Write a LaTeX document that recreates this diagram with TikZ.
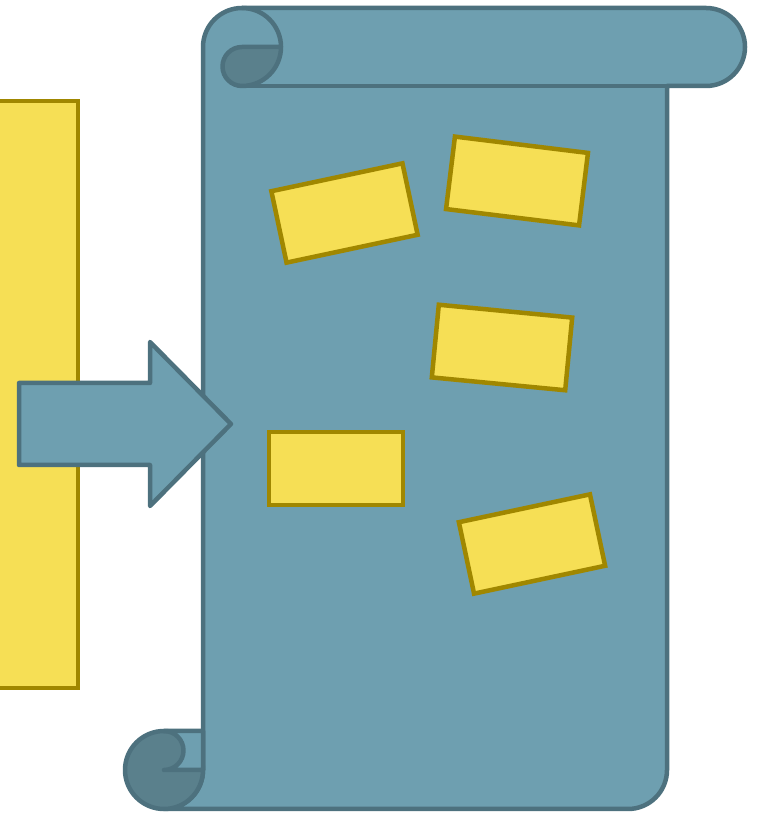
\documentclass[tikz,border=0pt]{standalone}
\usepackage{tikz}
\usetikzlibrary{positioning}

\definecolor{scrollfill}{HTML}{6E9FB0}
\definecolor{scrolldark}{HTML}{5A808C}
\definecolor{scrollline}{HTML}{4D717E}
\definecolor{cardfill}{HTML}{F6DF55}
\definecolor{cardline}{HTML}{A08700}

\tikzset{
  scroll/.style={draw=scrollline,line width=4.5pt,line join=round},
  card/.style={draw=cardline,fill=cardfill,line width=4.5pt,
    minimum width=134pt,minimum height=73pt,inner sep=0pt}
}

\begin{document}
\begin{tikzpicture}[x=1pt,y=1pt]
  \clip (0,0) rectangle (756,813);

  % 左の縦長カード（左端は切れている）
  \draw[draw=cardline,fill=cardfill,line width=4.5pt] (-10,125) rectangle (78,712);

  % 巻物の本体
  \draw[scroll,fill=scrollfill]
    (164,4) -- (628,4) arc[start angle=-90,end angle=0,radius=39]
    -- (667,727) -- (706,727) arc[start angle=-90,end angle=90,radius=39]
    -- (242,805) arc[start angle=90,end angle=180,radius=39]
    -- (203,43) arc[start angle=0,end angle=-90,radius=39] -- cycle;
  \draw[scroll] (242,727) -- (667,727);

  % 上の巻き込み
  \draw[scroll,fill=scrolldark]
    (242,766) -- (281,766) arc[start angle=0,end angle=-90,radius=39]
    arc[start angle=-90,end angle=-270,radius=19.5] -- cycle;
  \draw[scroll] (242,805) arc[start angle=90,end angle=0,radius=39];

  % 下の巻き込み
  \draw[scroll,fill=scrolldark] (164,43) circle (39);
  \draw[scroll,fill=scrollfill]
    (164,82) -- (203,82) -- (203,43) -- (164,43)
    arc[start angle=-90,end angle=90,radius=19.5] -- cycle;

  % 右向きの矢印
  \draw[scroll,fill=scrollfill]
    (19,430) -- (150,430) -- (150,471) -- (231,389) -- (150,307)
    -- (150,348) -- (19,348) -- cycle;

  % 巻物の上のカード
  \node[card,rotate=12]   (c1) at (344.5,600) {};
  \node[card,rotate=-7]   (c2) at (517,632) {};
  \node[card,rotate=-5.5] (c3) at (502,465.5) {};
  \node[card]             (c4) at (336,344.5) {};
  \node[card,rotate=12]   (c5) at (532,269) {};
\end{tikzpicture}
\end{document}
